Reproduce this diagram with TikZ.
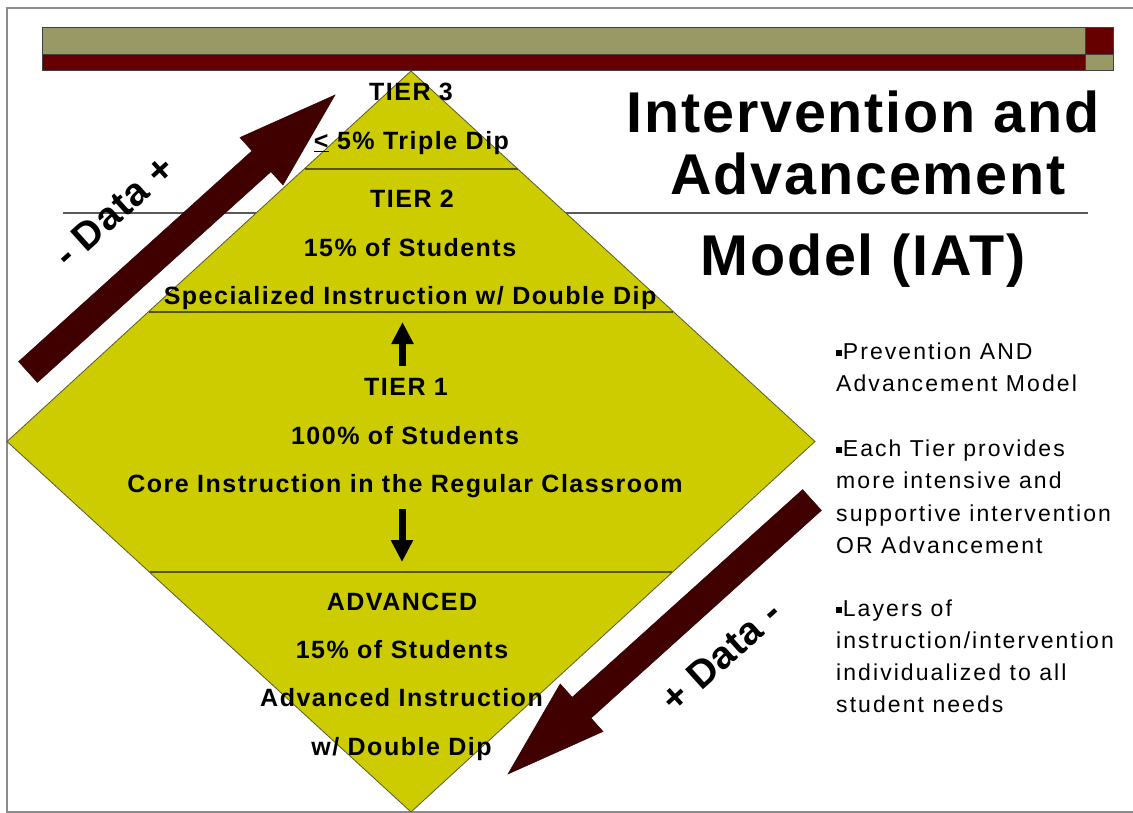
\documentclass[tikz,border=0pt]{standalone}
\usepackage{fontspec}
\setmainfont{Liberation Sans}
\newfontfamily\titlefont[LetterSpace=3.2]{Liberation Sans}
\newfontfamily\tierfont[LetterSpace=6]{Liberation Sans}
\newfontfamily\bulfont[LetterSpace=9]{Liberation Sans}
\newfontfamily\datafont[LetterSpace=2]{Liberation Sans}
\usetikzlibrary{arrows.meta}
\definecolor{diafill}{RGB}{204,204,0}
\definecolor{diaedge}{RGB}{90,90,50}
\definecolor{maroonbar}{RGB}{102,0,0}
\definecolor{olivebar}{RGB}{153,153,102}
\definecolor{bigarrow}{RGB}{64,0,0}
\definecolor{sepline}{RGB}{85,85,0}
\definecolor{framegray}{RGB}{140,140,140}
\definecolor{rulegray}{RGB}{90,90,90}
\newcommand\sqbul{\raisebox{0.3ex}{\rule{0.24em}{0.24em}}\hspace{0.05em}}
\begin{document}
\begin{tikzpicture}[x=1pt,y=-1pt,
  tiertext/.style={anchor=base, inner sep=0pt, font=\tierfont\bfseries\fontsize{25}{30}\selectfont},
  titletext/.style={anchor=base, inner sep=0pt, font=\titlefont\bfseries\fontsize{57.5}{68}\selectfont},
  bultext/.style={anchor=base west, inner sep=0pt, font=\bulfont\fontsize{23}{32}\selectfont},
  datatext/.style={anchor=center, inner sep=0pt, rotate=42, font=\datafont\bfseries\fontsize{39}{44}\selectfont},
  sepstyle/.style={draw=sepline, line width=1.4pt},
  bigarrowstyle/.style={fill=bigarrow, draw=bigarrow!80!black, line width=0.5pt},
  vertarrow/.style={line width=7pt, -{Triangle[width=21pt,length=22pt]}},
  barbox/.style={draw=black!75, line width=0.8pt}
]
\useasboundingbox (0,0) rectangle (1133,813);
\fill[white] (0,0) rectangle (1133,813);
% slide frame
\draw[framegray, line width=2pt] (1140,8) -- (7,8) -- (7,812) -- (1140,812);
% title underline
\draw[rulegray, line width=1.4pt] (63,213) -- (1088,213);
% diamond
\coordinate (dtop) at (411,71);
\coordinate (dright) at (815,441.5);
\coordinate (dbot) at (411,812);
\coordinate (dleft) at (7,441.5);
\filldraw[fill=diafill, draw=diaedge, line width=0.8pt] (dtop) -- (dright) -- (dbot) -- (dleft) -- cycle;
% tier separators
\draw[sepstyle] (304.5,169) -- (517.5,169);
\draw[sepstyle] (148.6,312) -- (673.4,312);
\draw[sepstyle] (149.6,572) -- (672.4,572);
% big arrows
\filldraw[bigarrowstyle] (18.6,361.6) -- (252,150.9) -- (240,137.5) -- (335,95) -- (283,185) -- (270.9,171.7) -- (37.4,382.4) -- cycle;
\filldraw[bigarrowstyle] (802.6,489.6) -- (572.2,697.3) -- (560.2,683.9) -- (508,774) -- (603,731.5) -- (591,718.1) -- (821.4,510.4) -- cycle;
\node[datatext] (dataup) at (114,211) {- Data +};
\node[datatext] (datadown) at (721,656) {+ Data -};
% tier texts
\node[tiertext] (t3a) at (411,101) {TIER 3};
\node[tiertext] (t3b) at (411.5,150) {\underline{<} 5\% Triple Dip};
\node[tiertext] (t2a) at (412,208) {TIER 2};
\node[tiertext] (t2b) at (410,257) {15\% of Students};
\node[tiertext] (t2c) at (410,305) {Specialized Instruction w/ Double Dip};
\node[tiertext] (t1a) at (406,395) {TIER 1};
\node[tiertext] (t1b) at (405,444) {100\% of Students};
\node[tiertext] (t1c) at (405,492) {Core Instruction in the Regular Classroom};
\node[tiertext] (ada) at (402,610) {ADVANCED};
\node[tiertext] (adb) at (402,658) {15\% of Students};
\node[tiertext] (adc) at (401.5,706) {Advanced Instruction};
\node[tiertext] (add) at (401.5,755) {w/ Double Dip};
% small vertical arrows
\coordinate (upS) at (402.5,366);
\coordinate (upE) at (402.5,322);
\draw[vertarrow] (upS) -- (upE);
\coordinate (dnS) at (402,509);
\coordinate (dnE) at (402,562);
\draw[vertarrow] (dnS) -- (dnE);
% title
\node[titletext] (ti1) at (863,133) {Intervention and};
\node[titletext] (ti2) at (868,195) {Advancement};
\node[titletext] (ti3) at (863,276) {Model (IAT)};
% bullets
\node[bultext] (b1a) at (836,359.5) {\sqbul Prevention AND};
\node[bultext] (b1b) at (836,391) {Advancement Model};
\node[bultext] (b2a) at (836,456.5) {\sqbul Each Tier provides};
\node[bultext] (b2b) at (836,488.5) {more intensive and};
\node[bultext] (b2c) at (836,521) {supportive intervention};
\node[bultext] (b2d) at (836,553) {OR Advancement};
\node[bultext] (b3a) at (836,616.5) {\sqbul Layers of};
\node[bultext] (b3b) at (836,648.5) {instruction/intervention};
\node[bultext] (b3c) at (836,680.5) {individualized to all};
\node[bultext] (b3d) at (836,712.5) {student needs};
% top bar
\filldraw[barbox, fill=olivebar] (42,27) rectangle (1085,54);
\filldraw[barbox, fill=maroonbar] (42,54) rectangle (1085,70);
\filldraw[barbox, fill=maroonbar] (1085,27) rectangle (1113,54);
\filldraw[barbox, fill=olivebar] (1085,54) rectangle (1113,70);
\end{tikzpicture}
\end{document}
